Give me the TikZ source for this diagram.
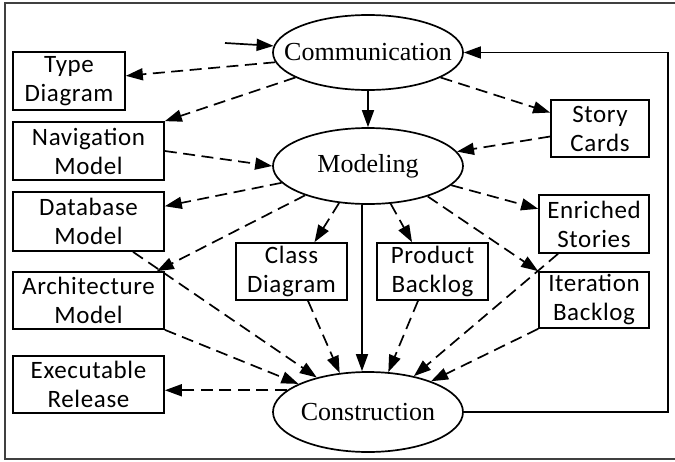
\documentclass[tikz,border=0pt]{standalone}
\usepackage{fontspec}
\setmainfont{Liberation Serif}
\newfontfamily\boxfont[LetterSpace=2.5]{Carlito}
\usetikzlibrary{shapes.geometric,arrows.meta}
\begin{document}
\begin{tikzpicture}[x=1pt,y=-1pt,
  ell/.style={draw,ellipse,line width=1.7pt,minimum width=190pt,inner sep=0pt,
    font=\fontsize{26}{30}\selectfont},
  bx/.style={draw,rectangle,line width=1.7pt,inner sep=0pt,align=center,
    font=\boxfont\fontsize{25}{29}\selectfont},
  arr/.style={line width=1.7pt,-{Triangle[length=17pt,width=12pt]}},
  dsh/.style={arr,dash pattern=on 12pt off 6.5pt}]
\useasboundingbox (0,0) rectangle (675,461);
% frame
\draw[line width=2.2pt,black!75] (690,3) -- (5,3) -- (5,459) -- (690,459);

% ellipses
\node[ell,minimum height=75pt] (comm) at (368,52.5) {\makebox[0pt]{Communication}};
\node[ell,minimum height=76pt] (modeling) at (368,166) {\makebox[0pt]{Modeling}};
\node[ell,minimum height=80pt] (constr) at (368,412) {\makebox[0pt]{Construction}};

% boxes
\node[bx,minimum width=112pt,minimum height=58pt] (type) at (69,81) {Type\\Diagram};
\node[bx,minimum width=151pt,minimum height=58pt] (nav) at (88.5,151) {Navigation\\Model};
\node[bx,minimum width=151pt,minimum height=59pt] (db) at (88.5,221.5) {Database\\Model};
\node[bx,minimum width=151pt,minimum height=57pt] (arch) at (88.5,300.5) {Architecture\\Model};
\node[bx,minimum width=151pt,minimum height=57pt] (exec) at (88.5,384.5) {Executable\\Release};
\node[bx,minimum width=111pt,minimum height=57pt] (class) at (291.5,271.5) {Class\\Diagram};
\node[bx,minimum width=111pt,minimum height=57pt] (prod) at (432.5,271.5) {Product\\Backlog};
\node[bx,minimum width=98pt,minimum height=57pt] (story) at (600,128.5) {Story\\Cards};
\node[bx,minimum width=110pt,minimum height=58pt] (enr) at (594,224) {Enriched\\Stories};
\node[bx,minimum width=110pt,minimum height=56pt] (iter) at (594,300) {Iteration\\Backlog};

% entry arrow
\coordinate (entry) at (225,43);
\draw[arr] (entry) -- (comm.176);

% from Communication
\draw[dsh] (comm.186) -- (type);
\draw[dsh] (comm.199) -- (nav.north east);
\draw[arr] (comm.south) -- (modeling.north);
\draw[dsh] (comm.341) -- (story);
\draw[dsh] ([yshift=-8pt]story.west) -- (modeling);
\draw[dsh] (nav.east) -- (modeling.west);

% from Modeling
\draw[dsh] (modeling.191) -- (db);
\draw[dsh] (modeling.205) -- ([xshift=-8pt]arch.north east);
\draw[dsh] (modeling.232) -- ([xshift=23pt]class.north);
\draw[arr] ([xshift=-6pt]modeling.south) -- ([xshift=-6pt]constr.north);
\draw[dsh] (modeling.301) -- ([xshift=-20.5pt]prod.north);
\draw[dsh] (modeling.347) -- (enr);
\draw[dsh] (modeling.333) -- (iter.north west);

% into Construction
\draw[dsh] ([xshift=44.5pt]db.south) -- (constr.146);
\draw[dsh] (arch.south east) -- (constr.158);
\draw[dsh] ([xshift=16.5pt]class.south) -- (constr.126);
\draw[dsh] ([xshift=-14.5pt]prod.south) -- (constr.63);
\draw[dsh] ([xshift=-36pt]enr.south) -- (constr.38);
\draw[dsh] (iter.south west) -- (constr.26);

% from Construction
\draw[dsh] (constr.165) -- (constr.165 -| exec.east);
\draw[arr] (constr.east) -- ++(204,0) |- (comm.east);
\end{tikzpicture}
\end{document}
